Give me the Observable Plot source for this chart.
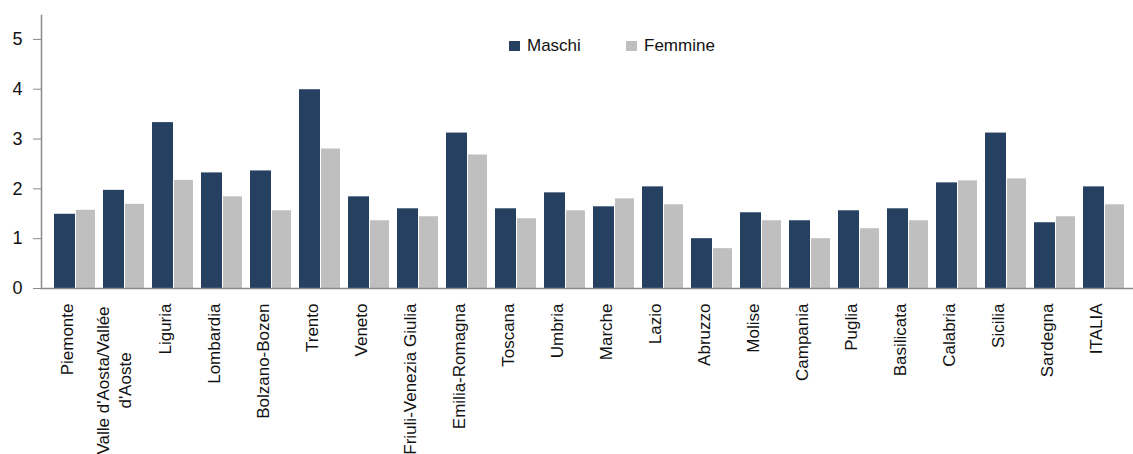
<!DOCTYPE html>
<html>
<head>
<meta charset="utf-8">
<script src="https://cdn.jsdelivr.net/npm/d3@7"></script>
<script src="https://cdn.jsdelivr.net/npm/@observablehq/plot@0.6"></script>
<style>
  html, body { margin: 0; padding: 0; background: #fff; overflow: hidden; }
  #wrap { position: relative; width: 1133px; height: 454px; overflow: hidden; font-family: "Liberation Sans", Arial, sans-serif; }
  .legend { position: absolute; top: 37px; left: 509px; font-size: 17px; line-height: 17px; color: #111; white-space: nowrap; }
  .legend .item { position: absolute; top: 0; }
  .legend .sw { position: absolute; top: 4px; width: 11px; height: 10px; }
  .legend .lab { position: absolute; left: 18px; top: 0; }
</style>
</head>
<body>
<div id="wrap">
  <div id="chart"></div>
  <div class="legend" id="legend"></div>
</div>
<script>
const regions = ["Piemonte","Valle d'Aosta/Vallée d'Aoste","Liguria","Lombardia","Bolzano-Bozen","Trento","Veneto","Friuli-Venezia Giulia","Emilia-Romagna","Toscana","Umbria","Marche","Lazio","Abruzzo","Molise","Campania","Puglia","Basilicata","Calabria","Sicilia","Sardegna","ITALIA"];
const labels = ["Piemonte","Valle d'Aosta/Vallée\nd'Aoste","Liguria","Lombardia","Bolzano-Bozen","Trento","Veneto","Friuli-Venezia Giulia","Emilia-Romagna","Toscana","Umbria","Marche","Lazio","Abruzzo","Molise","Campania","Puglia","Basilicata","Calabria","Sicilia","Sardegna","ITALIA"];
const maschi  = [1.49,1.97,3.33,2.32,2.36,3.99,1.84,1.60,3.12,1.60,1.92,1.64,2.04,1.00,1.52,1.36,1.56,1.60,2.12,3.12,1.32,2.04];
const femmine = [1.57,1.69,2.17,1.84,1.56,2.80,1.36,1.44,2.68,1.40,1.56,1.80,1.68,0.80,1.36,1.00,1.20,1.36,2.16,2.20,1.44,1.68];
const seriesNames = ["Maschi","Femmine"];
const seriesColors = ["#254061","#BFBFBF"];
const yTicks = [0,1,2,3,4,5];

const data = regions.map((r, i) => ({region: r, label: labels[i], maschi: maschi[i], femmine: femmine[i]}));
const multiLine = data.filter(d => d.label.includes("\n"));
const singleTicks = data.filter(d => !d.label.includes("\n")).map(d => d.region);

const chart = Plot.plot({
  width: 1133,
  height: 454,
  marginLeft: 41,
  marginRight: -4,
  marginTop: 15,
  marginBottom: 166,
  style: {fontFamily: "'Liberation Sans', Arial, sans-serif", fontSize: "17px", color: "#111", background: "#fff"},
  x: {domain: regions, paddingInner: 0.16, paddingOuter: 0.06, axis: null},
  y: {domain: [0, 5.48], axis: null},
  marks: [
    Plot.barY(data, {x: "region", y: "maschi", fill: seriesColors[0], insetRight: 20}),
    Plot.barY(data, {x: "region", y: "femmine", fill: seriesColors[1], insetLeft: 22}),
    Plot.ruleY([0], {stroke: "#8a8a8a", strokeWidth: 1.5}),
    Plot.frame({anchor: "left", stroke: "#8a8a8a", strokeWidth: 1.5}),
    Plot.axisY({ticks: yTicks, tickFormat: d => String(d), tickSize: 8, tickPadding: 11, stroke: "#8a8a8a", fill: "#111", fontSize: 18, label: null}),
    Plot.axisX({ticks: singleTicks, tickSize: 0, tickPadding: 15, tickRotate: -90, dx: -7, fill: "#111", fontSize: 17, label: null}),
    Plot.text(multiLine, {x: "region", text: "label", frameAnchor: "bottom", rotate: -90, textAnchor: "middle", lineHeight: 1.3, dy: 92, dx: 7, fill: "#111", fontSize: 17})
  ]
});
document.getElementById("chart").appendChild(chart);

const legend = document.getElementById("legend");
const offsets = [0, 117];
seriesNames.forEach((name, i) => {
  const item = document.createElement("div");
  item.className = "item";
  item.style.left = offsets[i] + "px";
  item.innerHTML = `<span class="sw" style="background:${seriesColors[i]}"></span><span class="lab">${name}</span>`;
  legend.appendChild(item);
});
</script>
</body>
</html>
